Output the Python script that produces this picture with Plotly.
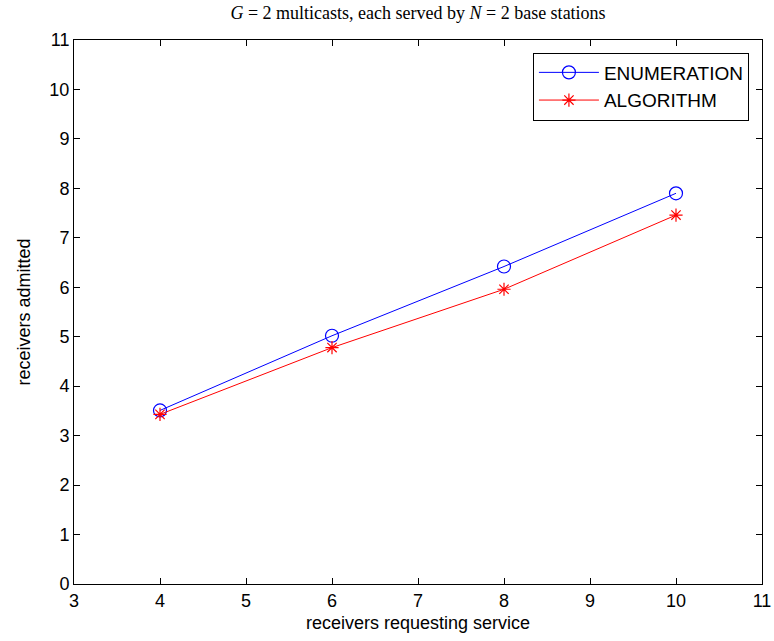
import plotly.graph_objects as go

x_vals = [4, 6, 8, 10]
enumeration = [3.51, 5.02, 6.42, 7.90]
algorithm = [3.43, 4.78, 5.96, 7.46]
x_ticks = [3, 4, 5, 6, 7, 8, 9, 10, 11]
y_ticks = list(range(0, 12))

fig = go.Figure()
fig.add_trace(go.Scatter(
    x=x_vals, y=enumeration, mode="lines+markers", name="ENUMERATION",
    line=dict(color="#0000ff", width=1),
    marker=dict(symbol="circle-open", size=13, color="#0000ff", line=dict(width=1.2, color="#0000ff")),
))
fig.add_trace(go.Scatter(
    x=x_vals, y=algorithm, mode="lines+markers", name="ALGORITHM",
    line=dict(color="#ff0000", width=1),
    marker=dict(symbol="asterisk-open", size=11, color="#ff0000", line=dict(width=1.2, color="#ff0000")),
))

sans = "Liberation Sans, Arial, sans-serif"
axis_common = dict(
    showgrid=False, zeroline=False, showline=True, linecolor="black", linewidth=1,
    mirror="ticks", ticks="inside", ticklen=6, tickcolor="black", automargin=False,
    tickfont=dict(family=sans, size=18, color="black"),
)

fig.update_layout(
    width=774, height=641,
    paper_bgcolor="white", plot_bgcolor="white",
    margin=dict(l=74, r=12, t=40, b=57),
    title=dict(
        text="<i>G</i> = 2 multicasts, each served by <i>N</i> = 2 base stations",
        x=0.5, xref="paper", xanchor="center", y=0.990, yref="container", yanchor="top",
        font=dict(family="Liberation Serif, Times New Roman, serif", size=18, color="black"),
    ),
    xaxis=dict(range=[3, 11], tickvals=x_ticks, **axis_common,
               title=dict(text="receivers requesting service", standoff=6,
                          font=dict(family=sans, size=18, color="black"))),
    yaxis=dict(range=[0, 11], tickvals=y_ticks, **axis_common,
               title=dict(text="receivers admitted", standoff=14,
                          font=dict(family=sans, size=18, color="black"))),
    legend=dict(
        x=0.981, y=0.977, xanchor="right", yanchor="top",
        bgcolor="white", bordercolor="black", borderwidth=1,
        font=dict(family=sans, size=19, color="black"),
        tracegroupgap=0, itemwidth=60,
    ),
    showlegend=True,
)

fig.write_html("out.html")
